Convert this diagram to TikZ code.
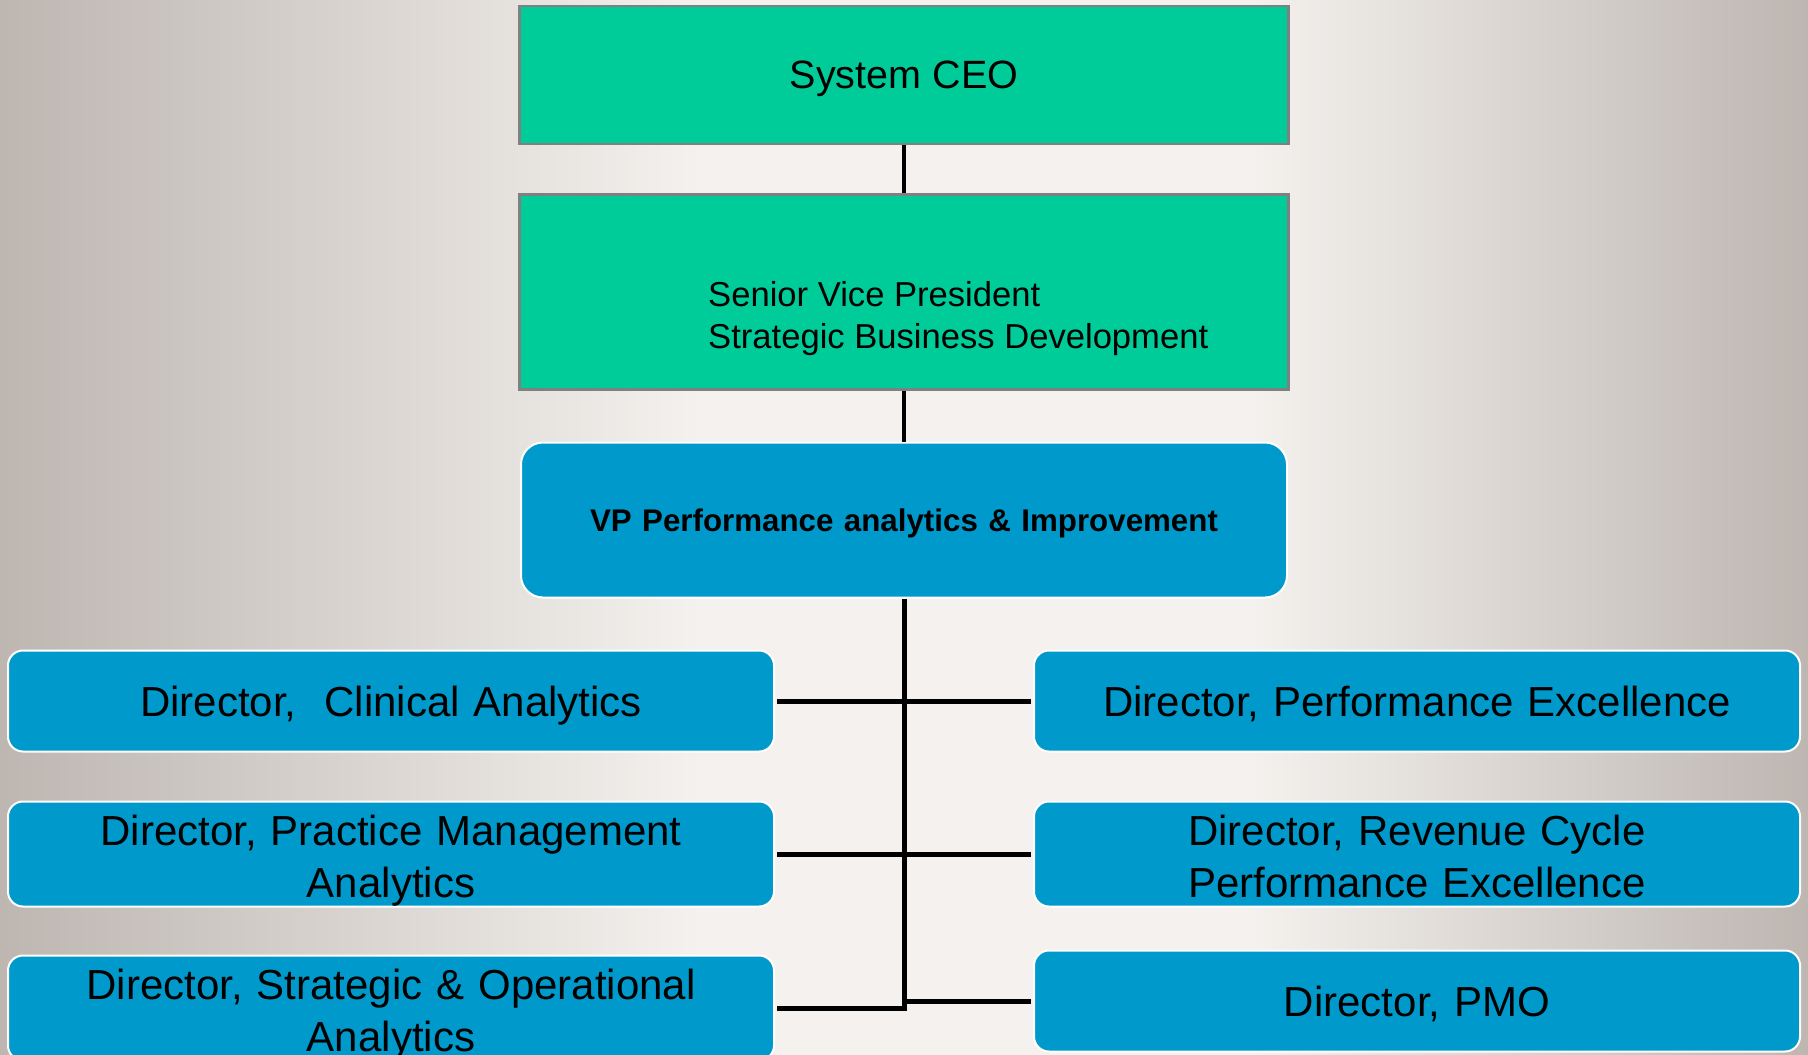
\documentclass[tikz,border=0pt]{standalone}
\usepackage{fontspec}
\setmainfont{Liberation Sans}
\definecolor{bgedge}{HTML}{BDB6B1}
\definecolor{bgmid}{HTML}{F4F1EE}
\definecolor{topgreen}{HTML}{00CC99}
\definecolor{boxblue}{HTML}{0099CC}
\definecolor{boxgray}{HTML}{808080}
\newcommand\firststrut{\rule{0pt}{44pt}}
\newcommand\laststrut{\rule[-9pt]{0pt}{9pt}}
\tikzset{
  greenbox/.style={draw=boxgray, line width=2.5pt, fill=topgreen, rectangle,
    inner sep=0pt, minimum width=769pt},
  bluebox/.style={draw=white, line width=2pt, fill=boxblue, rectangle,
    rounded corners=15pt, inner sep=0pt, minimum width=766pt, minimum height=101pt,
    align=center, text width=740pt, font=\fontsize{42}{52}\selectfont},
  oneline/.style={text depth=-3pt},
  conn/.style={line width=5pt, black},
  thinconn/.style={line width=4pt, black}
}
\begin{document}
\begin{tikzpicture}[x=1pt,y=-1pt]
\useasboundingbox (0,0) rectangle (1808,1055);
\fill[bgmid] (0,0) rectangle (1808,1055);
\shade[left color=bgedge, right color=bgmid] (0,0) rectangle (700,1055);
\shade[left color=bgmid, right color=bgedge] (1250,0) rectangle (1808,1055);

\node[greenbox, minimum height=138pt, text depth=-5pt, font=\fontsize{39.5}{46}\selectfont] (ceo) at (904,75) {System CEO};
\node[greenbox, minimum height=195pt] (svp) at (904,292) {};
\node[anchor=north west, inner sep=0pt, align=left, font=\fontsize{34.6}{42}\selectfont] (svptext) at (708,281)
  {Senior Vice President\\Strategic Business Development};

\node[bluebox, oneline, rounded corners=22pt, minimum width=766pt, minimum height=155pt, text width=740pt,
  font=\bfseries\fontsize{31.3}{38}\selectfont] (vp) at (904,520) {VP Performance analytics \& Improvement};

\node[bluebox, oneline] (l1) at (391,701) {Director,\ \ Clinical Analytics};
\node[bluebox] (l2) at (391,854) {\firststrut Director, Practice Management\\Analytics\laststrut};
\node[bluebox, minimum height=103pt] (l3) at (391,1008) {\firststrut Director, Strategic \& Operational\\Analytics\laststrut};
\node[bluebox, oneline] (r1) at (1417,701) {Director, Performance Excellence};
\node[bluebox] (r2) at (1417,854) {\firststrut Director, Revenue Cycle\\Performance Excellence\laststrut};
\node[bluebox, oneline] (r3) at (1417,1001) {Director, PMO};

\draw[thinconn] (ceo.south) -- (svp.north);
\draw[thinconn] (svp.south) -- (vp.north);
\coordinate (tb) at (vp.south |- l3.east);
\draw[conn] (vp.south) -- (tb) -- ([xshift=2pt]l3.east);
\draw[conn] ([xshift=2pt]l1.east) -- ([xshift=-2pt]r1.west);
\draw[conn] ([xshift=2pt]l2.east) -- ([xshift=-2pt]r2.west);
\draw[conn] ([xshift=-2pt]r3.west) -- (r3.west -| vp.south);
\end{tikzpicture}
\end{document}
